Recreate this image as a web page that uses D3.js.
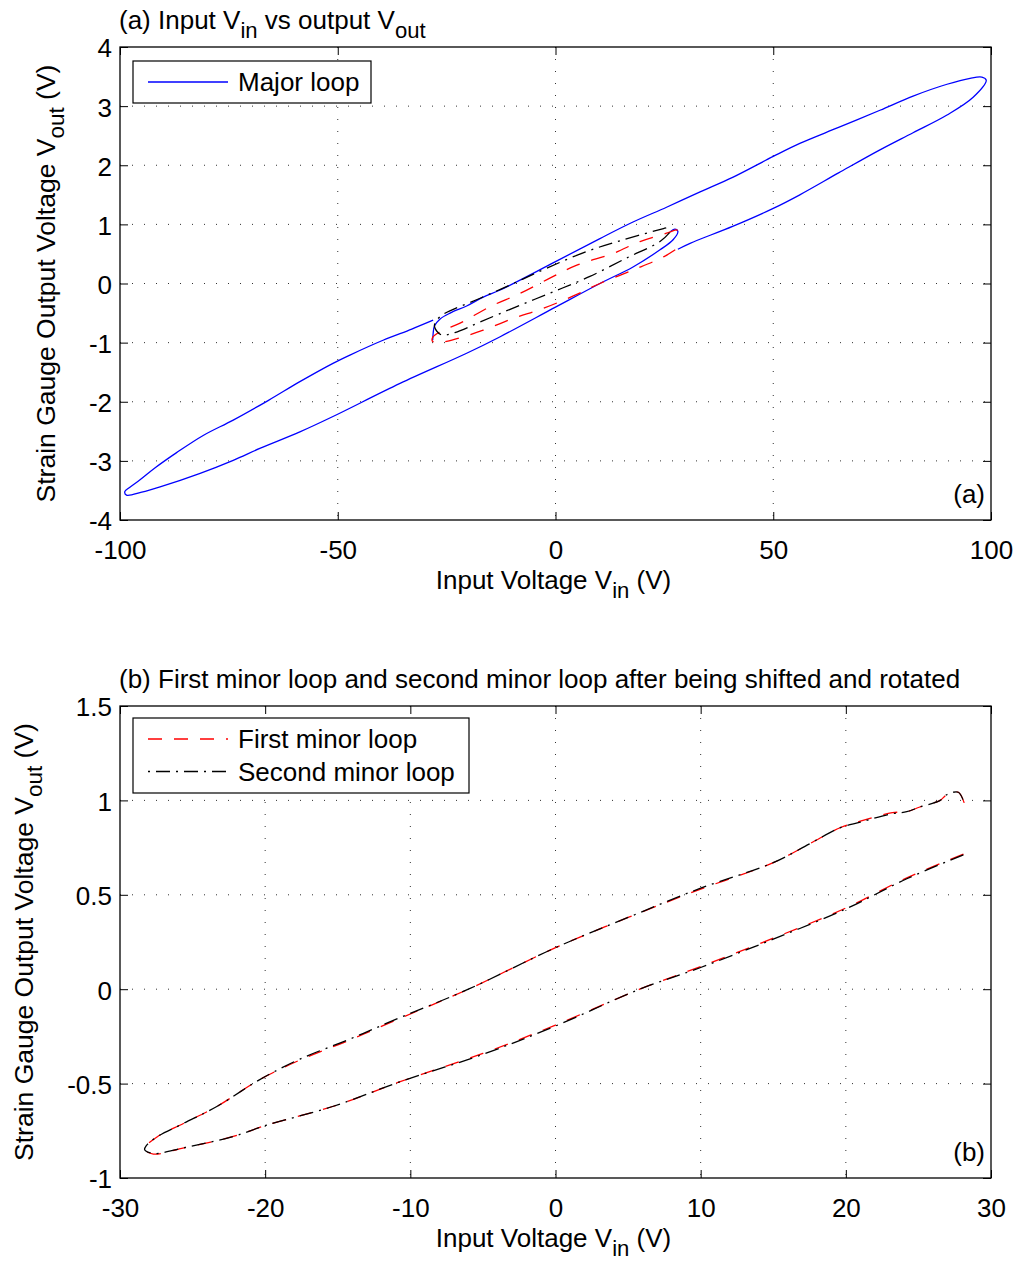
<!DOCTYPE html>
<html>
<head>
  <script src="https://d3js.org/d3.v7.min.js"></script>
  <style>
    body { margin: 0; background: #fff; }
    svg text { font-family: "Liberation Sans", Arial, sans-serif; fill: #000; }
    .grid line { stroke: #333; stroke-width: 1; stroke-dasharray: 1,11; }
    .tick line { stroke: #000; }
  </style>
</head>
<body>
  <script>
    var width = 1018, height = 1262;

    // ---- panel (a) data: major loop (two pieces) and the two minor loops ----
    var majorAX = [28.1, 30.9, 40.8, 50, 56.1, 65, 74.5, 82.1, 89.9, 95.9, 98.9, 97.9, 95.2, 89.9, 82.1, 74.5, 65, 56.1, 50, 40.8, 33.2, 25.5, 17.8, 10.2, 0, -12.7, -16.6, -20.4, -24.2, -26.5, -27.8, -28.1, -28.2];
    var majorAY = [0.58, 0.68, 0.97, 1.27, 1.5, 1.87, 2.26, 2.55, 2.85, 3.15, 3.44, 3.49, 3.47, 3.37, 3.17, 2.93, 2.64, 2.37, 2.15, 1.8, 1.55, 1.29, 1.04, 0.76, 0.37, -0.11, -0.23, -0.38, -0.50, -0.60, -0.72, -0.85, -0.96];
    var majorBX = [-28.1, -33, -39.6, -47.2, -51.1, -58.7, -66, -74, -80.9, -87, -92, -95.4, -97.8, -98.9, -98.5, -95, -90.8, -81.6, -74, -67.9, -58.7, -51.1, -35.7, -20.4, -12.7, 0, 10.2, 17.8, 24, 27, 28.1, 27.4, 26.3];
    var majorBY = [-0.62, -0.77, -0.96, -1.21, -1.35, -1.66, -1.98, -2.31, -2.57, -2.86, -3.12, -3.32, -3.45, -3.52, -3.58, -3.53, -3.44, -3.21, -2.99, -2.79, -2.51, -2.25, -1.69, -1.18, -0.90, -0.40, 0.00, 0.28, 0.57, 0.74, 0.88, 0.92, 0.87];

    var minor1AX = [27.5, 24.8, 17.9, 10.2, 4.1, -2.8, -9.7, -16.6, -25, -27.5, -28.3, -28.1, -26, -21.9, -15, -8.2, -1.3, 4.9, 13.3, 19.4, 25.5, 27.8, 28.2];
    var minor1AY = [0.57, 0.45, 0.23, 0.0, -0.21, -0.42, -0.59, -0.79, -0.98, -1.0, -0.97, -0.90, -0.80, -0.67, -0.39, -0.17, 0.09, 0.31, 0.51, 0.71, 0.85, 0.905, 0.87];
    var minor2AX = [26.2, 24, 16.3, 7.9, -0.5, -8.9, -17.3, -23.1, -26.2, -27.8, -26.5, -17.3, -9.7, -2, 7.1, 15.6, 24.8, 26.5];
    var minor2AY = [0.86, 0.71, 0.43, 0.12, -0.14, -0.39, -0.65, -0.83, -0.87, -0.72, -0.56, -0.25, 0.0, 0.26, 0.54, 0.74, 0.93, 0.96];

    // ---- panel (b) data: minor loops after shift / rotation ----
    var minor1BX = [28.1, 24.2, 20, 15, 10, 5.8, 0, -5, -10.7, -15.3, -19.9, -22.2, -25.6, -27.7, -28.3, -28.2, -27.4, -25.6, -23.3, -20.4, -17.6, -14.2, -10.7, -6, 0, 5, 10, 15, 17.5, 19.6, 21, 23.2, 24.2, 25.1, 26.5, 26.95, 27.75, 28.2];
    var minor1BY = [0.715, 0.59, 0.43, 0.27, 0.12, 0.0, -0.19, -0.34, -0.49, -0.62, -0.72, -0.78, -0.84, -0.873, -0.85, -0.83, -0.78, -0.71, -0.62, -0.48, -0.375, -0.27, -0.154, 0.0, 0.22, 0.38, 0.53, 0.67, 0.77, 0.855, 0.89, 0.935, 0.94, 0.965, 1.0, 1.03, 1.043, 0.976];
    var minor2BX = [28.1, 24.2, 20, 15, 10, 5.8, 0, -5, -10.7, -15.3, -19.9, -22.2, -25.6, -27.7, -28.3, -28.2, -27.4, -25.6, -23.3, -20.4, -17.6, -14.2, -10.7, -6, 0, 5, 10, 15, 17.5, 19.6, 21, 23.2, 24.2, 25.1, 26.5, 26.95, 27.75, 28.2];
    var minor2BY = [0.712, 0.585, 0.425, 0.265, 0.115, 0.0, -0.195, -0.345, -0.49, -0.62, -0.72, -0.78, -0.84, -0.87, -0.85, -0.83, -0.78, -0.71, -0.62, -0.48, -0.37, -0.265, -0.15, 0.0, 0.22, 0.38, 0.535, 0.67, 0.77, 0.855, 0.885, 0.93, 0.94, 0.965, 1.0, 1.03, 1.043, 0.976];

    var ticksAX = [-100, -50, 0, 50, 100], ticksAY = [-4, -3, -2, -1, 0, 1, 2, 3, 4];
    var ticksBX = [-30, -20, -10, 0, 10, 20, 30], ticksBY = [-1, -0.5, 0, 0.5, 1, 1.5];

    var FS = 26;
    var svg = d3.select("body").append("svg").attr("width", width).attr("height", height);

    function pts(xs, ys) { return d3.zip(xs, ys); }

    // one axes box with its dotted grid, returns scales
    function panel(box, xDom, yDom, xt, yt) {
      var x = d3.scaleLinear().domain(xDom).range([box.left, box.right]);
      var y = d3.scaleLinear().domain(yDom).range([box.bottom, box.top]);
      var g = svg.append("g");

      var grid = g.append("g").attr("class", "grid");
      grid.selectAll(".gx").data(xt.slice(1, -1)).enter().append("line")
        .attr("x1", d => x(d)).attr("x2", d => x(d)).attr("y1", box.top).attr("y2", box.bottom);
      grid.selectAll(".gy").data(yt.slice(1, -1)).enter().append("line")
        .attr("y1", d => y(d)).attr("y2", d => y(d)).attr("x1", box.left).attr("x2", box.right);

      return { x: x, y: y, g: g, box: box, xt: xt, yt: yt };
    }

    function frame(p) {
      var box = p.box, g = p.g;
      var fmt = d => String(d);
      g.append("g").attr("transform", "translate(0," + box.bottom + ")")
        .call(d3.axisBottom(p.x).tickValues(p.xt).tickSize(-8).tickPadding(21).tickFormat(fmt));
      var by = g.append("g").attr("transform", "translate(" + box.left + ",0)")
        .call(d3.axisLeft(p.y).tickValues(p.yt).tickSize(-8).tickPadding(8).tickFormat(fmt));
      g.append("g").attr("transform", "translate(0," + box.top + ")")
        .call(d3.axisTop(p.x).tickValues(p.xt).tickSize(-8).tickFormat(""));
      g.append("g").attr("transform", "translate(" + box.right + ",0)")
        .call(d3.axisRight(p.y).tickValues(p.yt).tickSize(-8).tickFormat(""));
      g.selectAll(".domain").remove();
      g.selectAll(".tick text").attr("font-size", FS).attr("font-family", "Liberation Sans, Arial, sans-serif").attr("fill", "#000");
      by.selectAll(".tick text").attr("dy", "0.38em");
      g.append("rect").attr("x", box.left).attr("y", box.top)
        .attr("width", box.right - box.left).attr("height", box.bottom - box.top)
        .attr("fill", "none").attr("stroke", "#000").attr("stroke-width", 1.3);
    }

    function curve(p, xs, ys, color, dash) {
      var line = d3.line().x(d => p.x(d[0])).y(d => p.y(d[1])).curve(d3.curveCatmullRom.alpha(0.5));
      p.g.append("path").datum(pts(xs, ys)).attr("d", line)
        .attr("fill", "none").attr("stroke", color).attr("stroke-width", 1.3)
        .attr("stroke-dasharray", dash || null);
    }

    // text with subscripts: parts = [[text, isSub], ...]
    function subText(parent, parts, size) {
      var t = parent.append("text").attr("font-size", size);
      var down = false;
      parts.forEach(function(pt) {
        var s = t.append("tspan").text(pt[0]);
        if (pt[1] && !down) { s.attr("dy", 9).attr("font-size", size * 0.85); down = true; }
        else if (!pt[1] && down) { s.attr("dy", -9); down = false; }
        else if (pt[1]) s.attr("font-size", size * 0.85);
      });
      return t;
    }

    function labels(p, title, tag) {
      var box = p.box, cx = (box.left + box.right) / 2, cy = (box.top + box.bottom) / 2;
      subText(svg.append("g").attr("transform", "translate(" + (box.left - 1) + "," + (box.top - 18) + ")"), title, FS);
      subText(svg.append("g").attr("transform", "translate(" + (cx - 2) + "," + (box.bottom + 69) + ")"),
        [["Input Voltage V", 0], ["in", 1], [" (V)", 0]], FS).attr("text-anchor", "middle");
      subText(svg.append("g").attr("transform", "translate(" + p.yLabelX + "," + cy + ") rotate(-90)"),
        [["Strain Gauge Output Voltage V", 0], ["out", 1], [" (V)", 0]], 26.5).attr("text-anchor", "middle");
      svg.append("text").attr("x", box.right - 6).attr("y", box.bottom - 17)
        .attr("text-anchor", "end").attr("font-size", FS).text(tag);
    }

    function legend(p, box, items) {
      var g = p.g.append("g");
      g.append("rect").attr("x", box.x).attr("y", box.y).attr("width", box.w).attr("height", box.h)
        .attr("fill", "#fff").attr("stroke", "#000").attr("stroke-width", 1.2);
      items.forEach(function(it, i) {
        var yy = box.y + 21 + i * 32.5;
        g.append("line").attr("x1", box.x + 15).attr("x2", box.x + 95).attr("y1", yy).attr("y2", yy)
          .attr("stroke", it.color).attr("stroke-width", 1.3).attr("stroke-dasharray", it.dash || null);
        g.append("text").attr("x", box.x + 105).attr("y", yy + 9).attr("font-size", FS).text(it.name);
      });
    }

    // ---- panel (a) ----
    var pa = panel({ left: 120, right: 991, top: 47, bottom: 520 }, [-100, 100], [-4, 4], ticksAX, ticksAY);
    curve(pa, majorAX, majorAY, "#0000ff");
    curve(pa, majorBX, majorBY, "#0000ff");
    curve(pa, minor1AX, minor1AY, "#ff0000", "14,12");
    curve(pa, minor2AX, minor2AY, "#000", "14,6,2,6");
    frame(pa);
    legend(pa, { x: 133, y: 61, w: 238, h: 42 }, [{ name: "Major loop", color: "#0000ff" }]);
    pa.yLabelX = 55;
    labels(pa, [["(a) Input V", 0], ["in", 1], [" vs output V", 0], ["out", 1]], "(a)");

    // ---- panel (b) ----
    var pb = panel({ left: 120, right: 991, top: 706, bottom: 1178 }, [-30, 30], [-1, 1.5], ticksBX, ticksBY);
    curve(pb, minor1BX, minor1BY, "#ff0000", "14,12");
    curve(pb, minor2BX, minor2BY, "#000", "14,6,2,6");
    frame(pb);
    legend(pb, { x: 133, y: 718, w: 336, h: 75 }, [
      { name: "First minor loop", color: "#ff0000", dash: "14,12" },
      { name: "Second minor loop", color: "#000", dash: "2,6,14,6" }
    ]);
    pb.yLabelX = 33;
    labels(pb, [["(b) First minor loop and second minor loop after being shifted and rotated", 0]], "(b)");
  </script>
</body>
</html>
